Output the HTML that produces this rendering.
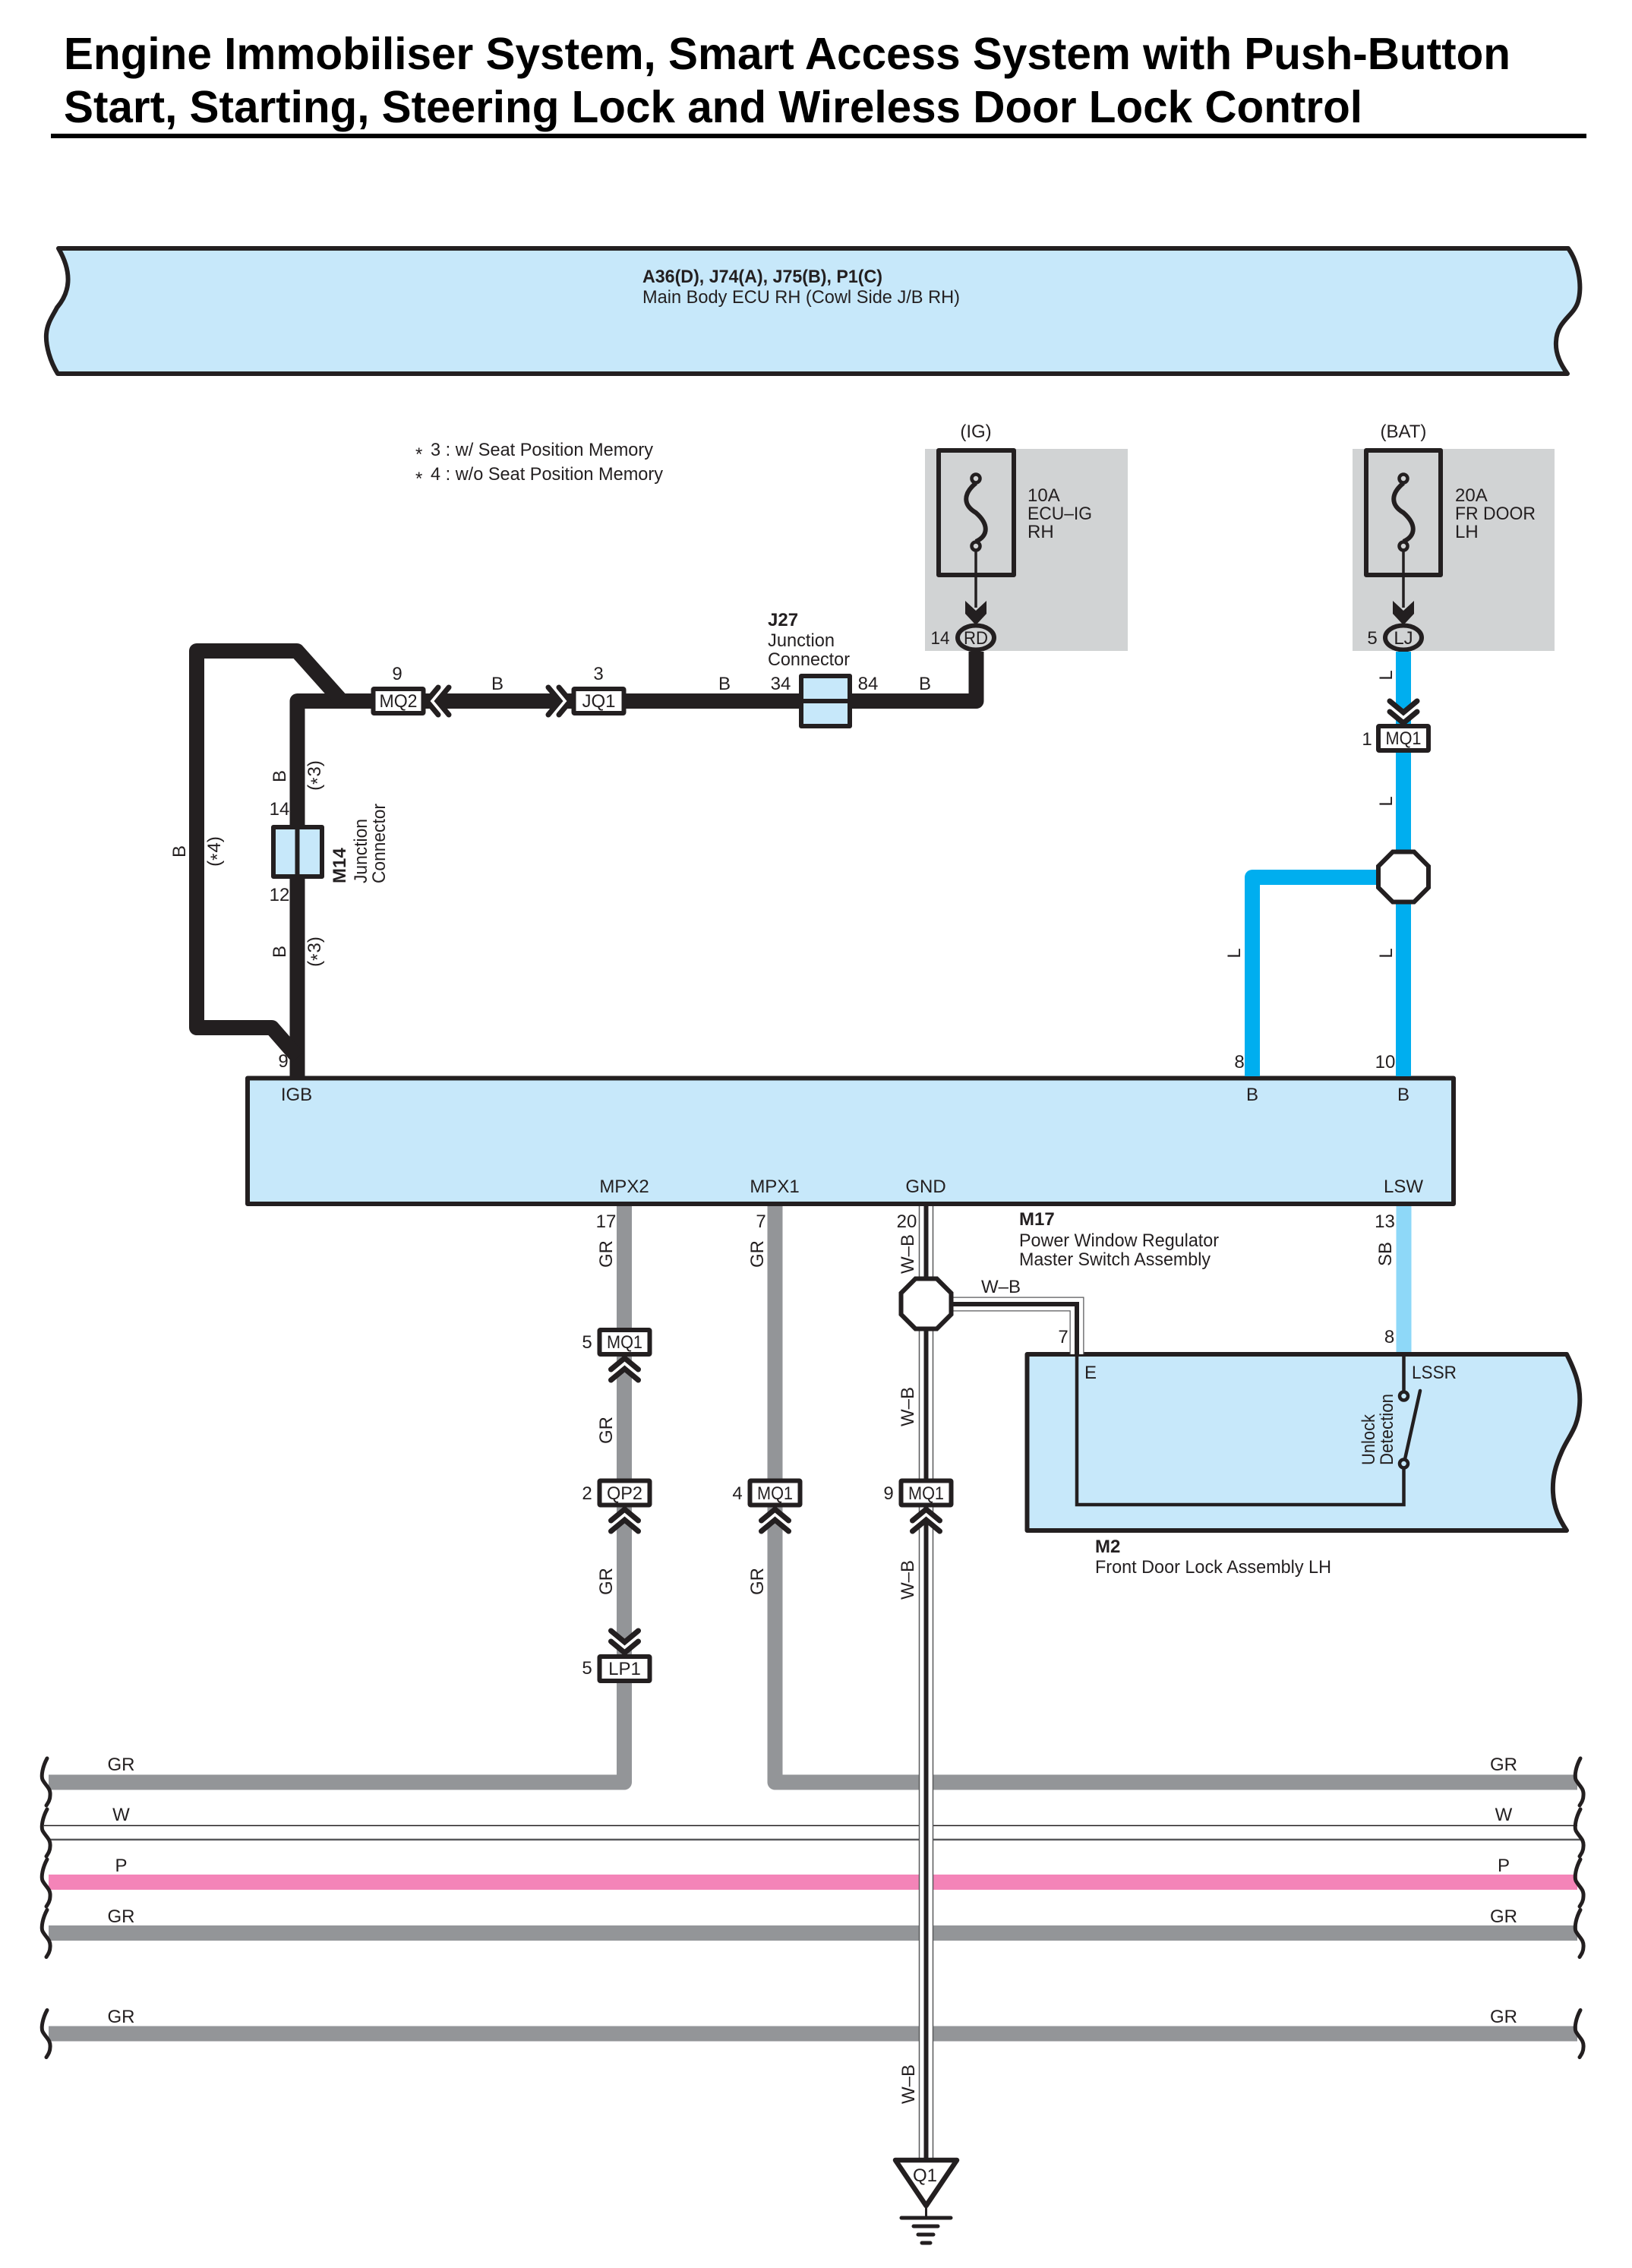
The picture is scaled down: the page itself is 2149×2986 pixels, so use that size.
<!DOCTYPE html>
<html><head><meta charset="utf-8"><title>Engine Immobiliser System</title>
<style>
html,body{margin:0;padding:0;background:#fff}
svg{display:block}
text{font-family:"Liberation Sans",sans-serif;font-size:24px;fill:#231f20}
.c{text-anchor:middle}
.b{font-weight:bold}
.t{font-weight:bold;font-size:59px;fill:#000}
</style></head><body>
<svg width="2149" height="2986" viewBox="0 0 2149 2986" xmlns="http://www.w3.org/2000/svg">
<defs>
<g id="chev">
<polygon points="0,2 18,17 18,31 0,16 -18,31 -18,17" fill="#fff"/>
<path d="M-18 17L0 2L18 17M-18 31L0 16L18 31" fill="none" stroke="#231f20" stroke-width="7" stroke-linecap="round" stroke-linejoin="miter"/>
</g>
<rect id="box" x="-33" y="-16" width="66" height="32" rx="1" fill="#fff" stroke="#231f20" stroke-width="6" stroke-linejoin="round"/>
<path id="sq" d="M62 -31C56 -20 54 -8 56 -3C60 5 67 8 66 18C66 24 63 28 61 31" fill="none" stroke="#231f20" stroke-width="5" stroke-linecap="round"/>
<polygon id="oct" points="-14,-33 14,-33 33,-14 33,14 14,33 -14,33 -33,14 -33,-14" fill="#fff" stroke="#231f20" stroke-width="6"/>
<g id="fuse">
<path d="M0 636C-17 650 -17 665 0 675C17 690 17 705 0 713" fill="none" stroke="#231f20" stroke-width="6"/>
<circle cx="0" cy="630" r="5.5" fill="#d1d3d4" stroke="#231f20" stroke-width="4.5"/>
<circle cx="0" cy="719" r="5.5" fill="#d1d3d4" stroke="#231f20" stroke-width="4.5"/>
<path d="M0 725V800" stroke="#231f20" stroke-width="3.5"/>
<polygon points="-14,791 0,804 14,791 14,808 0,823 -14,808" fill="#231f20"/>
<ellipse cx="0" cy="839.5" rx="24" ry="16" fill="#d1d3d4" stroke="#231f20" stroke-width="6"/>
</g>
</defs>

<!-- Title -->
<text class="t" x="84" y="91" textLength="1905" lengthAdjust="spacingAndGlyphs">Engine Immobiliser System, Smart Access System with Push-Button</text>
<text class="t" x="84" y="161" textLength="1710" lengthAdjust="spacingAndGlyphs">Start, Starting, Steering Lock and Wireless Door Lock Control</text>
<rect x="67" y="176" width="2022" height="6" fill="#000"/>

<!-- Top banner -->
<path d="M77 327H2065C2078 345 2084 375 2078 397C2072 417 2050 422 2049 450C2048 465 2055 480 2064 492H76C66 476 60 455 61 440C62 425 70 415 75 405C92 385 96 360 77 327Z" fill="#c7e8fa" stroke="#231f20" stroke-width="6" stroke-linejoin="round"/>
<text class="b" x="846" y="372" textLength="316" lengthAdjust="spacingAndGlyphs">A36(D), J74(A), J75(B), P1(C)</text>
<text x="846" y="399" textLength="418" lengthAdjust="spacingAndGlyphs">Main Body ECU RH (Cowl Side J/B RH)</text>

<!-- Notes -->
<text x="547" y="606">*</text>
<text x="567" y="600" textLength="293" lengthAdjust="spacingAndGlyphs">3 : w/ Seat Position Memory</text>
<text x="547" y="638">*</text>
<text x="567" y="632" textLength="306" lengthAdjust="spacingAndGlyphs">4 : w/o Seat Position Memory</text>

<!-- Fuse blocks -->
<rect x="1218" y="591" width="267" height="266" fill="#d1d3d4"/>
<rect x="1781" y="591" width="266" height="266" fill="#d1d3d4"/>
<rect x="1236" y="593" width="99" height="164" fill="none" stroke="#231f20" stroke-width="6" stroke-linejoin="round"/>
<rect x="1799" y="593" width="98" height="164" fill="none" stroke="#231f20" stroke-width="6" stroke-linejoin="round"/>
<use href="#fuse" transform="translate(1285,0)"/>
<use href="#fuse" transform="translate(1848,0)"/>
<text class="c" x="1285" y="576">(IG)</text>
<text class="c" x="1848" y="576">(BAT)</text>
<text x="1353" y="660">10A</text>
<text x="1353" y="684" textLength="85" lengthAdjust="spacingAndGlyphs">ECU–IG</text>
<text x="1353" y="708">RH</text>
<text x="1916" y="660">20A</text>
<text x="1916" y="684" textLength="106" lengthAdjust="spacingAndGlyphs">FR DOOR</text>
<text x="1916" y="708">LH</text>
<text class="c" x="1285" y="848" textLength="32" lengthAdjust="spacingAndGlyphs">RD</text>
<text class="c" x="1848" y="848">LJ</text>
<text class="c" x="1238" y="848" textLength="25" lengthAdjust="spacingAndGlyphs">14</text>
<text class="c" x="1807" y="848">5</text>

<!-- ECU block fill -->
<rect x="326" y="1419.5" width="1588" height="165.5" fill="#c7e8fa" stroke="#231f20" stroke-width="6" stroke-linejoin="round"/>

<!-- Black wires -->
<g fill="none" stroke="#231f20" stroke-width="20" stroke-linejoin="round">
<path d="M1285.5 858V923H1122"/>
<path d="M1052 923H391.5V1418"/>
<path d="M450 923L391 857H259V1353H358L392 1392" />
</g>

<!-- Blue wires -->
<g fill="none" stroke-width="20">
<path d="M1848 858V1417" stroke="#00aeef"/>
<path d="M1840 1155H1649V1417" stroke="#00aeef" stroke-linejoin="round"/>
<path d="M1848.5 1588V1783" stroke="#8ed8f8"/>
</g>
<use href="#oct" transform="translate(1848,1154.5)"/>

<!-- Bus wires -->
<g fill="none" stroke="#939598" stroke-width="20" stroke-linejoin="round">
<path d="M822 1588V2346.5H64"/>
<path d="M1020.5 1588V2346.5H2077"/>
<path d="M64 2545H2077"/>
<path d="M64 2677.5H2077"/>
</g>
<path d="M64 2478H2077" stroke="#f484b8" stroke-width="20" fill="none"/>
<path d="M58 2403.5H2077" stroke="#231f20" stroke-width="1.5"/>
<path d="M64 2422H2082" stroke="#58595b" stroke-width="2.5"/>

<!-- M2 block -->
<path d="M1352.5 1783H2063C2074 1805 2082 1825 2080 1850C2078 1880 2066 1890 2057 1910C2048 1930 2044 1945 2045 1965C2046 1985 2053 2000 2063 2015H1352.5Z" fill="#c7e8fa" stroke="#231f20" stroke-width="6" stroke-linejoin="round"/>

<!-- GND double wire -->
<g fill="none" stroke-linejoin="miter">
<path d="M1219.5 1588V2842" stroke="#58595b" stroke-width="19.5"/>
<path d="M1219.5 1588V2842" stroke="#fff" stroke-width="16.5"/>
<path d="M1219.5 1588V2842" stroke="#231f20" stroke-width="6"/>
<path d="M1225 1717H1418V1783" stroke="#58595b" stroke-width="19"/>
<path d="M1225 1717H1418V1783" stroke="#fff" stroke-width="16.5"/>
<path d="M1225 1717H1418V1783" stroke="#231f20" stroke-width="6"/>
</g>
<use href="#oct" transform="translate(1219.5,1716.5)"/>

<!-- M2 inner circuit -->
<path d="M1418 1783V1981H1848.5V1933M1848.5 1786V1832" fill="none" stroke="#231f20" stroke-width="4.5"/>
<circle cx="1848.5" cy="1838" r="5.5" fill="#c7e8fa" stroke="#231f20" stroke-width="4.5"/>
<circle cx="1848.5" cy="1927" r="5.5" fill="#c7e8fa" stroke="#231f20" stroke-width="4.5"/>
<path d="M1870 1831L1850 1921" stroke="#231f20" stroke-width="4.5" stroke-linecap="round"/>

<!-- Junction connectors -->
<g stroke="#231f20" stroke-width="6" fill="#c7e8fa" stroke-linejoin="round">
<rect x="1055" y="890" width="64" height="66"/>
<path d="M1055 923H1119" fill="none"/>
<rect x="360" y="1089" width="64" height="65"/>
<path d="M391.5 1089V1154" fill="none"/>
</g>

<!-- In-line connectors -->
<use href="#box" transform="translate(524.5,923)"/>
<use href="#box" transform="translate(788.5,923)"/>
<use href="#box" transform="translate(1848,972)"/>
<use href="#box" transform="translate(822.5,1767)"/>
<use href="#box" transform="translate(822.5,1965.5)"/>
<use href="#box" transform="translate(822.5,2197)"/>
<use href="#box" transform="translate(1020.5,1965.5)"/>
<use href="#box" transform="translate(1219.5,1965.5)"/>
<use href="#chev" transform="translate(560,923) rotate(-90)"/>
<use href="#chev" transform="translate(753,923) rotate(90)"/>
<use href="#chev" transform="translate(1848,954) rotate(180)"/>
<use href="#chev" transform="translate(822.5,2178) rotate(180)"/>
<use href="#chev" transform="translate(822.5,1786)"/>
<use href="#chev" transform="translate(822.5,1985)"/>
<use href="#chev" transform="translate(1020.5,1985)"/>
<use href="#chev" transform="translate(1219.5,1985)"/>

<!-- Connector labels -->
<text class="c" x="524.5" y="931" textLength="50" lengthAdjust="spacingAndGlyphs">MQ2</text>
<text class="c" x="788.5" y="931">JQ1</text>
<text class="c" x="1848" y="980" textLength="47" lengthAdjust="spacingAndGlyphs">MQ1</text>
<text class="c" x="822.5" y="1775" textLength="47" lengthAdjust="spacingAndGlyphs">MQ1</text>
<text class="c" x="822.5" y="1974" textLength="47" lengthAdjust="spacingAndGlyphs">QP2</text>
<text class="c" x="822.5" y="2205">LP1</text>
<text class="c" x="1020.5" y="1974" textLength="47" lengthAdjust="spacingAndGlyphs">MQ1</text>
<text class="c" x="1219.5" y="1974" textLength="47" lengthAdjust="spacingAndGlyphs">MQ1</text>

<!-- Pin numbers -->
<text class="c" x="523" y="895">9</text>
<text class="c" x="788" y="895">3</text>
<text class="c" x="655" y="908">B</text>
<text class="c" x="954" y="908">B</text>
<text class="c" x="1028" y="908">34</text>
<text class="c" x="1143" y="908">84</text>
<text class="c" x="1218" y="908">B</text>
<text x="1011" y="824" class="b">J27</text>
<text x="1011" y="851" textLength="88" lengthAdjust="spacingAndGlyphs">Junction</text>
<text x="1011" y="876" textLength="108" lengthAdjust="spacingAndGlyphs">Connector</text>
<text class="c" x="368" y="1073">14</text>
<text class="c" x="368" y="1186">12</text>
<text class="c" x="373" y="1405">9</text>
<text class="c" x="390.5" y="1449">IGB</text>
<text class="c" x="1649" y="1449">B</text>
<text class="c" x="1848" y="1449">B</text>
<text class="c" x="1632" y="1406">8</text>
<text class="c" x="1824" y="1406">10</text>
<text class="c" x="822" y="1570">MPX2</text>
<text class="c" x="1020" y="1570">MPX1</text>
<text class="c" x="1219" y="1570">GND</text>
<text class="c" x="1848" y="1570">LSW</text>
<text class="c" x="798" y="1616">17</text>
<text class="c" x="1002" y="1616">7</text>
<text class="c" x="1194" y="1616">20</text>
<text class="c" x="1823.5" y="1616">13</text>
<text class="c" x="1829.5" y="1768">8</text>
<text class="c" x="1400" y="1768">7</text>
<text class="c" x="1318" y="1702">W–B</text>
<text class="c" x="1436" y="1815">E</text>
<text x="1859" y="1815" textLength="59" lengthAdjust="spacingAndGlyphs">LSSR</text>
<text class="c" x="773" y="1775">5</text>
<text class="c" x="773" y="1974">2</text>
<text class="c" x="773" y="2204">5</text>
<text class="c" x="971" y="1974">4</text>
<text class="c" x="1170" y="1974">9</text>
<text class="c" x="1800" y="981">1</text>

<!-- Rotated wire labels -->
<text class="c" transform="translate(376,1022) rotate(-90)">B</text>
<text class="c" transform="translate(376,1253) rotate(-90)">B</text>
<text class="c" transform="translate(244,1121) rotate(-90)">B</text>
<text class="c" transform="translate(422,1021) rotate(-90)">(<tspan dy="4">*</tspan><tspan dy="-4" dx="1">3</tspan>)</text>
<text class="c" transform="translate(422,1253) rotate(-90)">(<tspan dy="4">*</tspan><tspan dy="-4" dx="1">3</tspan>)</text>
<text class="c" transform="translate(290,1121) rotate(-90)">(<tspan dy="4">*</tspan><tspan dy="-4" dx="1">4</tspan>)</text>
<text class="c" transform="translate(1833,889) rotate(-90)">L</text>
<text class="c" transform="translate(1833,1055) rotate(-90)">L</text>
<text class="c" transform="translate(1833,1255) rotate(-90)">L</text>
<text class="c" transform="translate(1633,1255) rotate(-90)">L</text>
<text class="c" transform="translate(806,1651) rotate(-90)">GR</text>
<text class="c" transform="translate(806,1883) rotate(-90)">GR</text>
<text class="c" transform="translate(806,2082) rotate(-90)">GR</text>
<text class="c" transform="translate(1005,1651) rotate(-90)">GR</text>
<text class="c" transform="translate(1005,2082) rotate(-90)">GR</text>
<text class="c" transform="translate(1203,1651) rotate(-90)">W–B</text>
<text class="c" transform="translate(1203,1852) rotate(-90)">W–B</text>
<text class="c" transform="translate(1203,2080) rotate(-90)">W–B</text>
<text class="c" transform="translate(1204,2744) rotate(-90)">W–B</text>
<text class="c" transform="translate(1832,1651) rotate(-90)">SB</text>
<text class="b" transform="translate(455,1163) rotate(-90)">M14</text>
<text transform="translate(483,1163) rotate(-90)" textLength="85" lengthAdjust="spacingAndGlyphs">Junction</text>
<text transform="translate(507,1163) rotate(-90)" textLength="105" lengthAdjust="spacingAndGlyphs">Connector</text>
<text transform="translate(1810,1929) rotate(-90)" textLength="67" lengthAdjust="spacingAndGlyphs">Unlock</text>
<text transform="translate(1834,1929) rotate(-90)" textLength="94" lengthAdjust="spacingAndGlyphs">Detection</text>

<!-- Device labels -->
<text class="b" x="1342" y="1613">M17</text>
<text x="1342" y="1641" textLength="263" lengthAdjust="spacingAndGlyphs">Power Window Regulator</text>
<text x="1342" y="1666" textLength="252" lengthAdjust="spacingAndGlyphs">Master Switch Assembly</text>
<text class="b" x="1442" y="2044">M2</text>
<text x="1442" y="2071" textLength="311" lengthAdjust="spacingAndGlyphs">Front Door Lock Assembly LH</text>

<!-- Bus labels -->
<text class="c" x="159.5" y="2331">GR</text>
<text class="c" x="159.5" y="2397">W</text>
<text class="c" x="159.5" y="2464">P</text>
<text class="c" x="159.5" y="2531">GR</text>
<text class="c" x="159.5" y="2663">GR</text>
<text class="c" x="1980" y="2331">GR</text>
<text class="c" x="1980" y="2397">W</text>
<text class="c" x="1980" y="2464">P</text>
<text class="c" x="1980" y="2531">GR</text>
<text class="c" x="1980" y="2663">GR</text>

<!-- Squiggles -->
<use href="#sq" transform="translate(0,2346)"/>
<use href="#sq" transform="translate(0,2413)"/>
<use href="#sq" transform="translate(0,2479)"/>
<use href="#sq" transform="translate(0,2545.5)"/>
<use href="#sq" transform="translate(0,2677.5)"/>
<use href="#sq" transform="translate(2019,2346)"/>
<use href="#sq" transform="translate(2019,2413)"/>
<use href="#sq" transform="translate(2019,2479)"/>
<use href="#sq" transform="translate(2019,2545.5)"/>
<use href="#sq" transform="translate(2019,2677.5)"/>

<!-- Ground -->
<polygon points="1179,2844 1260,2844 1219.5,2904" fill="#fff" stroke="#231f20" stroke-width="6.5" stroke-linejoin="round"/>
<text class="c" x="1218" y="2872">Q1</text>
<g stroke="#231f20" stroke-linecap="round" fill="none">
<path d="M1219.5 2905V2920" stroke-width="3"/>
<path d="M1187 2920H1252" stroke-width="5"/>
<path d="M1203 2931H1235" stroke-width="5"/>
<path d="M1209 2942H1229" stroke-width="5"/>
<path d="M1214 2953H1225" stroke-width="5"/>
</g>
</svg>
</body></html>
